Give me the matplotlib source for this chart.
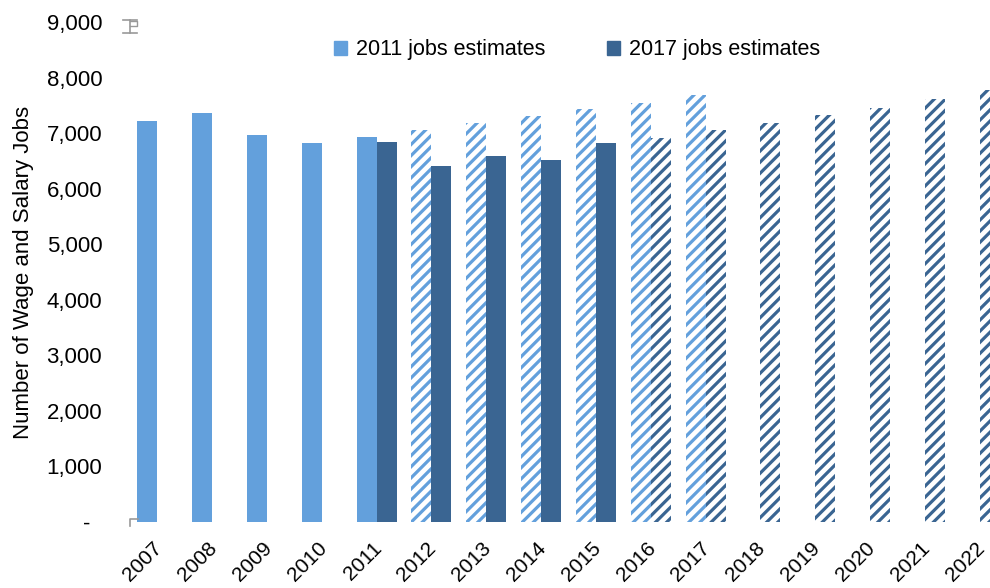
import numpy as np
import matplotlib
matplotlib.use("Agg")
from matplotlib import pyplot as plt
from matplotlib.patches import Patch
from matplotlib.ticker import FuncFormatter
from matplotlib.transforms import ScaledTranslation

years = ["2007", "2008", "2009", "2010", "2011", "2012", "2013", "2014",
         "2015", "2016", "2017", "2018", "2019", "2020", "2021", "2022"]
nan = np.nan
est_2011 = [7210, 7360, 6960, 6820, 6930, 7050, 7180, 7300, 7430, 7550, 7680,
            nan, nan, nan, nan, nan]
est_2017 = [nan, nan, nan, nan, 6840, 6400, 6580, 6510, 6820, 6910, 7050,
            7190, 7320, 7460, 7620, 7770]
last_actual_2011 = "2011"   # later years are projections (hatched)
last_actual_2017 = "2015"

light = "#63A0DC"
dark = "#3A6592"

plt.rcParams["font.family"] = ["Liberation Sans", "DejaVu Sans"]
plt.rcParams["hatch.linewidth"] = 2.3

fig = plt.figure(figsize=(9.9, 5.88), dpi=100)
ax = fig.add_axes([130 / 990, 66 / 588, 877 / 990, 500 / 588])

x = np.arange(len(years))
w = 0.365

def draw_series(values, offset, color, last_actual):
    cut = years.index(last_actual)
    for i, v in enumerate(values):
        if np.isnan(v):
            continue
        if i <= cut:
            ax.bar(x[i] + offset, v, w, color=color, linewidth=0)
        else:
            ax.bar(x[i] + offset, v, w, facecolor="white", edgecolor=color,
                   hatch="///", linewidth=0)

draw_series(est_2011, -w / 2, light, last_actual_2011)
draw_series(est_2017, w / 2, dark, last_actual_2017)

ax.set_xlim(-0.5, len(years) - 0.5)
ax.set_ylim(0, 9000)
ax.set_yticks(np.arange(0, 9001, 1000))
ax.yaxis.set_major_formatter(FuncFormatter(lambda v, p: "-  " if v == 0 else f"{int(v):,}"))
ax.tick_params(axis="y", length=0, pad=20, labelsize=16)
ax.set_xticks(x)
ax.set_xticklabels(years, rotation=45, ha="right", rotation_mode="anchor", fontsize=15)
ax.tick_params(axis="x", length=0, pad=12)
shift = ScaledTranslation(-3.5 / 72, 0, fig.dpi_scale_trans)
for lab in ax.get_xticklabels():
    lab.set_transform(lab.get_transform() + shift)
for s in ax.spines.values():
    s.set_visible(False)

# small grey axis remnants seen in the original
grey = "#999999"
ax.plot([-0.63, -0.37], [9040, 9040], color=grey, lw=1.2, clip_on=False)
ax.plot([-0.5, -0.5], [9040, 8800], color=grey, lw=1.2, clip_on=False)
ax.plot([-0.63, -0.37], [8800, 8800], color=grey, lw=1.2, clip_on=False)
ax.plot([-0.5, -0.37, -0.37, -0.5], [9010, 9010, 8920, 8920], color=grey, lw=1.0, clip_on=False)
ax.plot([-0.5, -0.5, -0.36], [-80, 50, 50], color=grey, lw=1.2, clip_on=False)

ax.set_ylabel("Number of Wage and Salary Jobs", fontsize=16)
ax.yaxis.set_label_coords(-0.109, 0.5)

handles = [Patch(color=light), Patch(color=dark)]
fig.legend(handles, ["2011 jobs estimates", "2017 jobs estimates"],
           loc="center", bbox_to_anchor=(577 / 990, 1 - 50 / 588), ncol=2,
           frameon=False, fontsize=15.5, handlelength=0.6, handleheight=0.6,
           handletextpad=0.4, columnspacing=2.9)

fig.savefig("out.png", dpi=100)
